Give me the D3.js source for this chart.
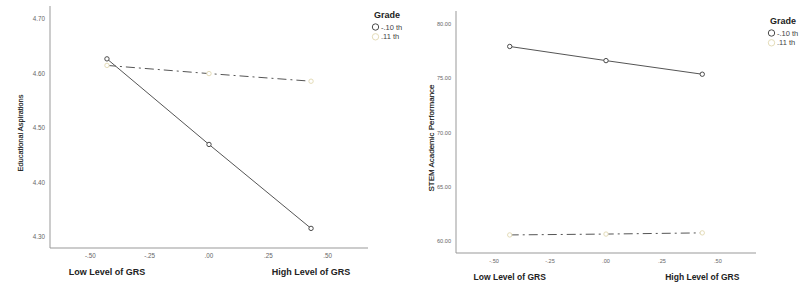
<!DOCTYPE html>
<html><head><meta charset="utf-8">
<script src="https://cdn.jsdelivr.net/npm/d3@7"></script>
<style>body{margin:0;background:#fff}svg{display:block;font-family:Arial,"Liberation Sans",sans-serif}</style>
</head><body><svg id="c" width="809" height="289"></svg>
<script>
const xPositions = [-0.43, 0, 0.43];
const xTicks = [-0.5, -0.25, 0, 0.25, 0.5];
const xTickLabels = ["-.50", "-.25", ".00", ".25", ".50"];
const grades = ["-.10 th", ".11 th"];
const aspirTicks = [4.3, 4.4, 4.5, 4.6, 4.7];
const aspir10 = [4.627, 4.470, 4.316];
const aspir11 = [4.615, 4.600, 4.586];
const stemTicks = [60, 65, 70, 75, 80];
const stem10 = [77.9, 76.6, 75.35];
const stem11 = [60.58, 60.66, 60.77];

const svg = d3.select("#c");
const colors = ["#4a4a4a", "#e4dcb8"];

function panel(o) {
  const g = svg.append("g");
  const x = d3.scaleLinear().domain([-0.67, 0.67]).range([o.left, o.right]);
  const y = d3.scaleLinear().domain(o.ydom).range([o.bottom, o.top]);
  g.append("line").attr("x1", o.left).attr("x2", o.left).attr("y1", o.top).attr("y2", o.bottom).attr("stroke", "#999").attr("stroke-width", 1);
  g.append("line").attr("x1", o.left).attr("x2", o.right).attr("y1", o.bottom).attr("y2", o.bottom).attr("stroke", "#999").attr("stroke-width", 1);
  g.selectAll(".yt").data(o.yticks).enter().append("text")
    .attr("x", o.left - 5).attr("y", d => y(d) + 2.2).attr("text-anchor", "end")
    .attr("font-size", o.tfs).attr("fill", "#666").text(d => d3.format(o.yfmt)(d));
  g.selectAll(".xt").data(xTicks).enter().append("text")
    .attr("x", d => x(d)).attr("y", o.bottom + 10).attr("text-anchor", "middle")
    .attr("font-size", o.tfs).attr("fill", "#666").text((d, i) => xTickLabels[i]);
  [0, 2].forEach((p, i) => {
    g.append("text").attr("x", x(xPositions[p])).attr("y", o.bottom + 27).attr("text-anchor", "middle")
      .attr("font-size", o.afs).attr("font-weight", "bold").attr("fill", "#222").text(i === 0 ? "Low Level of GRS" : "High Level of GRS");
  });
  g.append("text").attr("transform", `translate(${o.ylx},${o.yly}) rotate(-90)`).attr("text-anchor", "middle")
    .attr("font-size", o.yfs).attr("fill", "#111").attr("stroke", "#111").attr("stroke-width", 0.15).text(o.ylabel);
  const line = d3.line().x((d, i) => x(xPositions[i])).y(d => y(d));
  g.append("path").attr("d", line(o.s11)).attr("fill", "none").attr("stroke", "#555").attr("stroke-width", 1)
    .attr("stroke-dasharray", "9,4,2,4");
  g.append("path").attr("d", line(o.s10)).attr("fill", "none").attr("stroke", "#555").attr("stroke-width", 1);
  [o.s10, o.s11].forEach((s, k) => {
    g.selectAll(null).data(s).enter().append("circle")
      .attr("cx", (d, i) => x(xPositions[i])).attr("cy", d => y(d)).attr("r", 2.2)
      .attr("fill", "#fff").attr("stroke", colors[k]).attr("stroke-width", 1);
  });
  g.append("text").attr("x", o.lgx).attr("y", o.lgy).attr("font-size", 9).attr("font-weight", "bold").attr("fill", "#222").text("Grade");
  grades.forEach((gr, k) => {
    g.append("circle").attr("cx", o.lgx + 1.5).attr("cy", o.lgy + 9 + k * 9.8).attr("r", 3.2)
      .attr("fill", "#fff").attr("stroke", colors[k]).attr("stroke-width", 1);
    g.append("text").attr("x", o.lgx + 7).attr("y", o.lgy + 11.6 + k * 9.8).attr("font-size", 7.5).attr("fill", "#444").text(gr);
  });
}

panel({left: 50, right: 368, top: 6, bottom: 248, ydom: [4.28, 4.724], yticks: aspirTicks, yfmt: ".2f", tfs: 6.3, afs: 9, yfs: 7.4,
  s10: aspir10, s11: aspir11, ylabel: "Educational Aspirations", ylx: 23, yly: 133, lgx: 374, lgy: 18});
panel({left: 456, right: 756, top: 11, bottom: 253, ydom: [58.92, 81.16], yticks: stemTicks, yfmt: ".2f", tfs: 5.6, afs: 8.5, yfs: 8,
  s10: stem10, s11: stem11, ylabel: "STEM Academic Performance", ylx: 434, yly: 138, lgx: 770, lgy: 24});
</script></body></html>
